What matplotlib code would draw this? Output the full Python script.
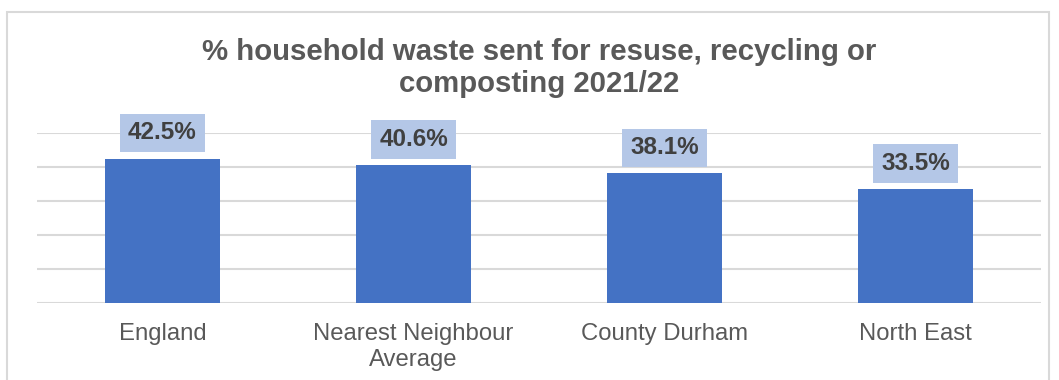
import matplotlib.pyplot as plt
from matplotlib.patches import Rectangle

categories = ["England", "Nearest Neighbour\nAverage", "County Durham", "North East"]
values = [42.5, 40.6, 38.1, 33.5]
value_labels = ["42.5%", "40.6%", "38.1%", "33.5%"]

plt.rcParams['font.family'] = ['Liberation Sans', 'DejaVu Sans']

W, H = 1059, 380
fig = plt.figure(figsize=(W / 100, H / 100), dpi=100)

# chart frame
fig.patches.append(Rectangle((7 / W, -0.05), (1049 - 7) / W, 1.05 - 12 / H,
                             transform=fig.transFigure, fill=False,
                             edgecolor='#D9D9D9', linewidth=1.5))

ax = fig.add_axes([37 / W, 1 - 303 / H, (1041 - 37) / W, (303 - 133) / H])
x = range(len(categories))
ax.bar(x, values, width=0.455, color='#4472C4', zorder=3)
ax.set_xlim(-0.5, len(categories) - 0.5)
ax.set_ylim(0, 50)
ax.set_yticks([0, 10, 20, 30, 40, 50])
ax.yaxis.grid(True, color='#D9D9D9', linewidth=1.5, zorder=0)
ax.tick_params(axis='y', length=0, labelleft=False)
ax.tick_params(axis='x', length=0, pad=14.5, labelsize=17.2, labelcolor='#595959')
ax.set_xticks(list(x))
ax.set_xticklabels(categories, linespacing=1.2)
for s in ax.spines.values():
    s.set_visible(False)

for i, v in enumerate(values):
    ax.annotate(value_labels[i], (i, v), xytext=(0, 18.4), textcoords='offset points',
                ha='center', va='center', fontsize=17.5, fontweight='bold',
                color='#404040', zorder=4,
                bbox=dict(boxstyle='square,pad=0.32', facecolor='#B4C7E7',
                          edgecolor='none'))

fig.text(539 / W, 1 - 68 / H,
         "% household waste sent for resuse, recycling or\ncomposting 2021/22",
         ha='center', va='center', fontsize=21.2, fontweight='bold',
         color='#595959', linespacing=1.2)

fig.savefig("out.png", dpi=100)
